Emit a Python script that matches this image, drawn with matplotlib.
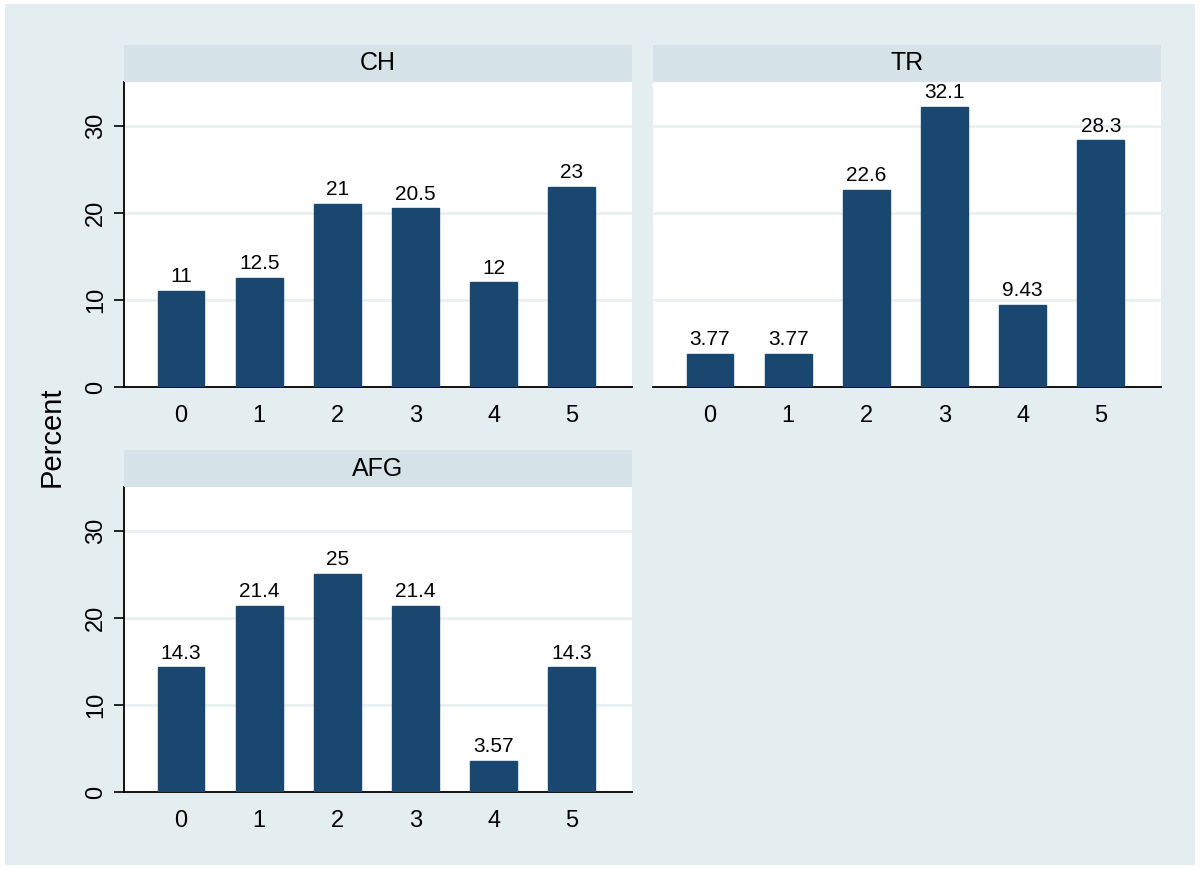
import matplotlib
matplotlib.use('Agg')
import matplotlib.pyplot as plt
from matplotlib.patches import Rectangle

plt.rcParams['font.family'] = ['Liberation Sans', 'DejaVu Sans']

cats = [0, 1, 2, 3, 4, 5]
panels = ["CH", "TR", "AFG"]
ch = [11, 12.5, 21, 20.5, 12, 23]
tr = [3.77, 3.77, 22.6, 32.1, 9.43, 28.3]
afg = [14.3, 21.4, 25, 21.4, 3.57, 14.3]
labels_ch = ["11", "12.5", "21", "20.5", "12", "23"]
labels_tr = ["3.77", "3.77", "22.6", "32.1", "9.43", "28.3"]
labels_afg = ["14.3", "21.4", "25", "21.4", "3.57", "14.3"]
yticks = [0, 10, 20, 30]

bg = "#e4eef0"
strip = "#d5e2e8"
bar_col = "#1a476f"
grid_col = "#e8f0f2"

W, H = 1200, 869
fig = plt.figure(figsize=(12, 8.69), dpi=100)
fig.patch.set_facecolor("white")
fig.patches.append(Rectangle((5/W, 4/H), 1190/W, 861/H, transform=fig.transFigure,
                             facecolor=bg, edgecolor="none", zorder=-10))

def px(x0, y0, x1, y1):
	return [x0/W, 1 - y1/H, (x1-x0)/W, (y1-y0)/H]

boxes = [(124, 82, 632, 387), (653, 82, 1161, 387), (124, 487, 632, 792)]
data = [ch, tr, afg]
labs = [labels_ch, labels_tr, labels_afg]

for k in range(3):
	x0, y0, x1, y1 = boxes[k]
	ax = fig.add_axes(px(x0, y0, x1, y1))
	ax.set_facecolor("white")
	ax.bar(cats, data[k], width=0.6, color=bar_col, edgecolor=bar_col, zorder=3)
	for c, v, t in zip(cats, data[k], labs[k]):
		ax.text(c, v + 0.55, t, ha="center", va="bottom", fontsize=15, zorder=4)
	ax.set_xlim(-0.73, 5.77)
	ax.set_ylim(0, 35)
	for yv in yticks[1:]:
		ax.axhline(yv, color=grid_col, lw=2, zorder=1)
	ax.set_xticks(cats)
	ax.set_xticklabels([str(c) for c in cats], fontsize=17)
	ax.tick_params(axis="x", length=0, pad=13)
	for s in ["top", "right"]:
		ax.spines[s].set_visible(False)
	ax.spines["bottom"].set_linewidth(1.3)
	ax.spines["left"].set_linewidth(1.3)
	if k == 1:
		ax.spines["left"].set_visible(False)
		ax.set_yticks([])
	else:
		ax.set_yticks(yticks)
		ax.set_yticklabels([str(v) for v in yticks], fontsize=17, rotation=90, va="center")
		ax.tick_params(axis="y", length=7, width=1.2, pad=5)
	# strip title
	sax = fig.add_axes(px(x0, y0 - 37, x1, y0))
	sax.set_facecolor(strip)
	sax.set_xticks([])
	sax.set_yticks([])
	for s in sax.spines.values():
		s.set_visible(False)
	sax.text(0.5, 0.5, panels[k], ha="center", va="center", fontsize=18, transform=sax.transAxes)

fig.text(52/W, 1 - 437/H, "Percent", rotation=90, ha="center", va="center", fontsize=21)

plt.savefig("out.png", dpi=100, facecolor="white")
